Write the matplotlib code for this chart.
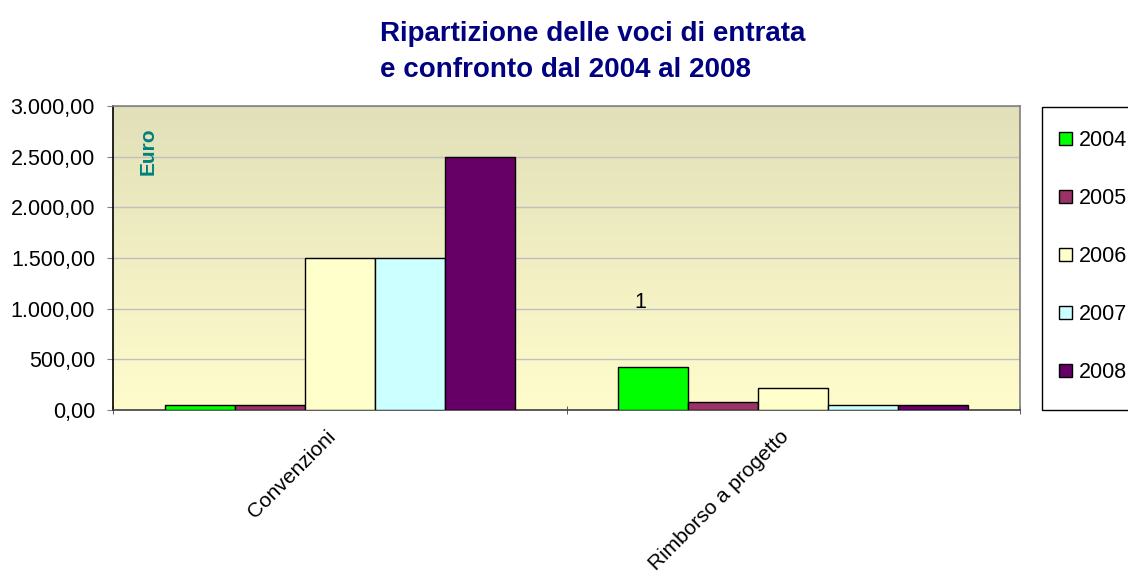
import numpy as np
import matplotlib
matplotlib.use("Agg")
import matplotlib.pyplot as plt
import matplotlib.transforms as mtransforms
from matplotlib.patches import Rectangle
from matplotlib.colors import LinearSegmentedColormap
from matplotlib.ticker import FuncFormatter, MultipleLocator

plt.rcParams['font.family'] = ['Liberation Sans', 'DejaVu Sans']

categories = ["Convenzioni", "Rimborso a progetto"]
years = ["2004", "2005", "2006", "2007", "2008"]
values_2004 = [50, 420]
values_2005 = [50, 75]
values_2006 = [1500, 220]
values_2007 = [1500, 45]
values_2008 = [2500, 45]
series = [values_2004, values_2005, values_2006, values_2007, values_2008]
colors = ["#00FF00", "#993366", "#FFFFCC", "#CCFFFF", "#660066"]

fig = plt.figure(figsize=(11.28, 5.76), dpi=100)
ax = fig.add_axes([113/1128, 1-410/576, (1020-113)/1128, (410-106)/576])

# gradient background
cmap = LinearSegmentedColormap.from_list("bg", ["#FFFCCC", "#E2E0B9"])
grad = np.linspace(0, 1, 256).reshape(-1, 1)
ax.imshow(grad, aspect='auto', cmap=cmap, origin='lower',
          extent=[0, 1, 0, 1], transform=ax.transAxes, zorder=0)

x = np.arange(len(categories))
w = 70/454
for i, (vals, c, lab) in enumerate(zip(series, colors, years)):
    ax.bar(x + (i-2)*w, vals, width=w, color=c, edgecolor='black',
           linewidth=1.0, label=lab, zorder=3)

ax.set_xlim(-0.5, 1.5)
ax.set_ylim(0, 3000)
ax.yaxis.set_major_locator(MultipleLocator(500))
ax.yaxis.set_major_formatter(FuncFormatter(
    lambda v, p: f"{v:,.2f}".replace(",", "X").replace(".", ",").replace("X", ".")))
ax.grid(axis='y', color='#C0C0C0', linewidth=1, zorder=1)
ax.set_axisbelow(True)

ax.set_xticks(x)
ax.set_xticklabels(categories, rotation=45, ha='right', rotation_mode='anchor',
                   fontsize=15)
ax.tick_params(axis='x', which='major', length=0, pad=12)
offset = mtransforms.ScaledTranslation(-14/100, 0, fig.dpi_scale_trans)
for lbl in ax.get_xticklabels():
    lbl.set_transform(lbl.get_transform() + offset)
ax.set_xticks([-0.5, 0.5, 1.5], minor=True)
ax.tick_params(axis='x', which='minor', length=6, direction='inout', color='#404040')
ax.tick_params(axis='y', labelsize=15.5, length=4.3, color='#808080', pad=8.6)

for s in ['top', 'right']:
    ax.spines[s].set_color('#808080')
ax.spines['left'].set_color('black')
ax.spines['bottom'].set_color('#404040')
for s in ax.spines.values():
    s.set_linewidth(1.2)

fig.text(148/1128, 1-151/576, "Euro", rotation=90,
         color='#008080', fontweight='bold', fontsize=15, ha='center', va='center')
fig.text(640/1128, 1-303/576, "1", fontsize=15.5, ha='center', va='center')

fig.text(380/1128, 1-52/576, "Ripartizione delle voci di entrata\ne confronto dal 2004 al 2008",
         ha='left', va='center', multialignment='left', fontsize=20,
         fontweight='bold', color='#000080', linespacing=1.5)

# legend frame (drawn separately so it can run off the right edge like the original)
fig.patches.append(Rectangle((1042/1128, 1-410/576), 120/1128, (410-107)/576,
                             transform=fig.transFigure, facecolor='white',
                             edgecolor='black', linewidth=1.0, zorder=0))
leg = fig.legend(loc='upper left', bbox_to_anchor=(1059/1128, 1-130/576),
                 fontsize=15.5, frameon=False,
                 handlelength=0.6, handleheight=0.6, handletextpad=0.3,
                 labelspacing=1.72, borderpad=0, borderaxespad=0)

fig.savefig("out.png", dpi=100, facecolor='white')
